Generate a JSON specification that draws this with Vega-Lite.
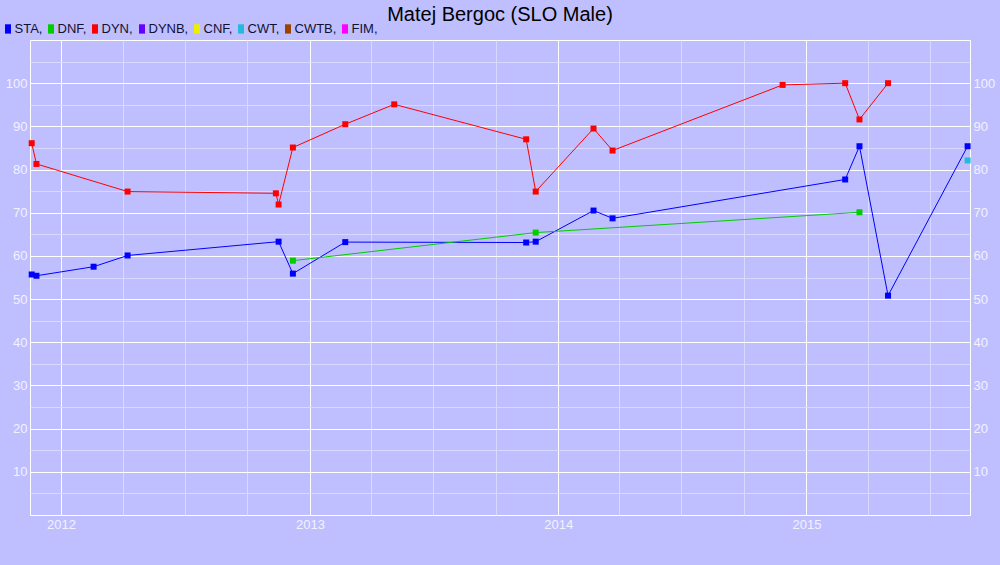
{
  "$schema": "https://vega.github.io/schema/vega-lite/v6.json",
  "width": 940,
  "height": 475,
  "autosize": {"type": "none"},
  "padding": {"left": 30, "top": 40, "right": 30, "bottom": 50},
  "title": {
    "text": "Matej Bergoc (SLO Male)",
    "fontSize": 20,
    "font": "Liberation Sans",
    "fontWeight": "normal",
    "color": "#000000",
    "anchor": "middle",
    "frame": "group",
    "offset": -3
  },
  "data": {
    "values": [
      {"date": "2011-11-19", "discipline": "DYN", "value": 86.1},
      {"date": "2011-11-26", "discipline": "DYN", "value": 81.3},
      {"date": "2012-04-08", "discipline": "DYN", "value": 74.9},
      {"date": "2012-11-12", "discipline": "DYN", "value": 74.5},
      {"date": "2012-11-16", "discipline": "DYN", "value": 71.9},
      {"date": "2012-12-07", "discipline": "DYN", "value": 85.1},
      {"date": "2013-02-22", "discipline": "DYN", "value": 90.5},
      {"date": "2013-05-05", "discipline": "DYN", "value": 95.1},
      {"date": "2013-11-15", "discipline": "DYN", "value": 87.0},
      {"date": "2013-11-29", "discipline": "DYN", "value": 74.9},
      {"date": "2014-02-22", "discipline": "DYN", "value": 89.5},
      {"date": "2014-03-22", "discipline": "DYN", "value": 84.4},
      {"date": "2014-11-27", "discipline": "DYN", "value": 99.6},
      {"date": "2015-02-27", "discipline": "DYN", "value": 100.0},
      {"date": "2015-03-20", "discipline": "DYN", "value": 91.6},
      {"date": "2015-05-01", "discipline": "DYN", "value": 100.0},
      {"date": "2011-11-19", "discipline": "STA", "value": 55.7},
      {"date": "2011-11-26", "discipline": "STA", "value": 55.4},
      {"date": "2012-02-18", "discipline": "STA", "value": 57.5},
      {"date": "2012-04-08", "discipline": "STA", "value": 60.1},
      {"date": "2012-11-16", "discipline": "STA", "value": 63.3},
      {"date": "2012-12-07", "discipline": "STA", "value": 55.9},
      {"date": "2013-02-22", "discipline": "STA", "value": 63.2},
      {"date": "2013-11-15", "discipline": "STA", "value": 63.1},
      {"date": "2013-11-29", "discipline": "STA", "value": 63.3},
      {"date": "2014-02-22", "discipline": "STA", "value": 70.5},
      {"date": "2014-03-22", "discipline": "STA", "value": 68.7},
      {"date": "2015-02-27", "discipline": "STA", "value": 77.7},
      {"date": "2015-03-20", "discipline": "STA", "value": 85.4},
      {"date": "2015-05-01", "discipline": "STA", "value": 50.8},
      {"date": "2015-08-26", "discipline": "STA", "value": 85.4},
      {"date": "2012-12-07", "discipline": "DNF", "value": 58.9},
      {"date": "2013-11-29", "discipline": "DNF", "value": 65.4},
      {"date": "2015-03-20", "discipline": "DNF", "value": 70.1},
      {"date": "2015-08-26", "discipline": "CWT", "value": 82.1}
    ]
  },
  "encoding": {
    "x": {
      "field": "date",
      "type": "temporal",
      "scale": {
        "type": "utc",
        "domain": [
          {"year": 2011, "month": 11, "date": 16, "hours": 12, "utc": true},
          {"year": 2015, "month": 8, "date": 29, "hours": 12, "utc": true}
        ]
      },
      "axis": {
        "title": null,
        "orient": "bottom",
        "tickCount": {"interval": "month", "step": 3},
        "grid": true,
        "gridColor": {
          "condition": {"test": "utcmonth(datum.value) === 0", "value": "#FFFFFF"},
          "value": "#D9D9FF"
        },
        "labelExpr": "utcmonth(datum.value) === 0 ? utcFormat(datum.value, '%Y') : ''",
        "labelFlush": false,
        "labelOverlap": false,
        "labelPadding": 3
      }
    },
    "color": {
      "field": "discipline",
      "type": "nominal",
      "scale": {
        "domain": ["STA", "DNF", "DYN", "DYNB", "CNF", "CWT", "CWTB", "FIM"],
        "range": ["#0000FF", "#00CC00", "#FF0000", "#6600FF", "#EEEE00", "#22BBDD", "#994400", "#FF00FF"]
      },
      "legend": {
        "orient": "none",
        "legendX": -28.5,
        "legendY": -17.8,
        "direction": "horizontal",
        "columns": 8,
        "title": null,
        "symbolType": "M-0.65,-1H0.65V1H-0.65Z",
        "symbolSize": 87,
        "symbolStrokeWidth": 0,
        "symbolOpacity": 1,
        "labelFont": "Liberation Sans",
        "labelFontSize": 13,
        "labelColor": "#111133",
        "labelOffset": 0,
        "columnPadding": 2,
        "padding": 0,
        "labelExpr": "datum.label + ','"
      }
    }
  },
  "layer": [
    {
      "mark": {"type": "line", "strokeWidth": 1},
      "encoding": {
        "y": {
          "field": "value",
          "type": "quantitative",
          "scale": {"domain": [0, 110], "nice": false},
          "axis": {
            "title": null,
            "orient": "left",
            "values": [5, 10, 15, 20, 25, 30, 35, 40, 45, 50, 55, 60, 65, 70, 75, 80, 85, 90, 95, 100, 105],
            "grid": true,
            "gridColor": {
              "condition": {"test": "datum.value % 10 === 0", "value": "#FFFFFF"},
              "value": "#D9D9FF"
            },
            "labelExpr": "datum.value % 10 === 0 ? datum.label : ''",
            "labelPadding": 3,
            "labelOverlap": false
          }
        }
      }
    },
    {
      "mark": {"type": "point", "shape": "square", "filled": true, "size": 36, "opacity": 1},
      "encoding": {
        "y": {
          "field": "value",
          "type": "quantitative",
          "scale": {"domain": [0, 110], "nice": false},
          "axis": {
            "title": null,
            "orient": "right",
            "values": [10, 20, 30, 40, 50, 60, 70, 80, 90, 100],
            "grid": false,
            "labelPadding": 3,
            "labelOverlap": false
          }
        }
      }
    }
  ],
  "resolve": {"axis": {"y": "independent"}},
  "config": {
    "background": "#BFBFFF",
    "view": {"fill": "#BFBFFF", "stroke": "#FFFFFF", "strokeWidth": 1},
    "font": "Liberation Sans",
    "axis": {
      "domain": false,
      "ticks": false,
      "tickSize": 0,
      "labelFont": "Liberation Sans",
      "labelFontSize": 13,
      "labelColor": "#F2F2FF",
      "gridWidth": 1,
      "gridOpacity": 1
    }
  }
}
